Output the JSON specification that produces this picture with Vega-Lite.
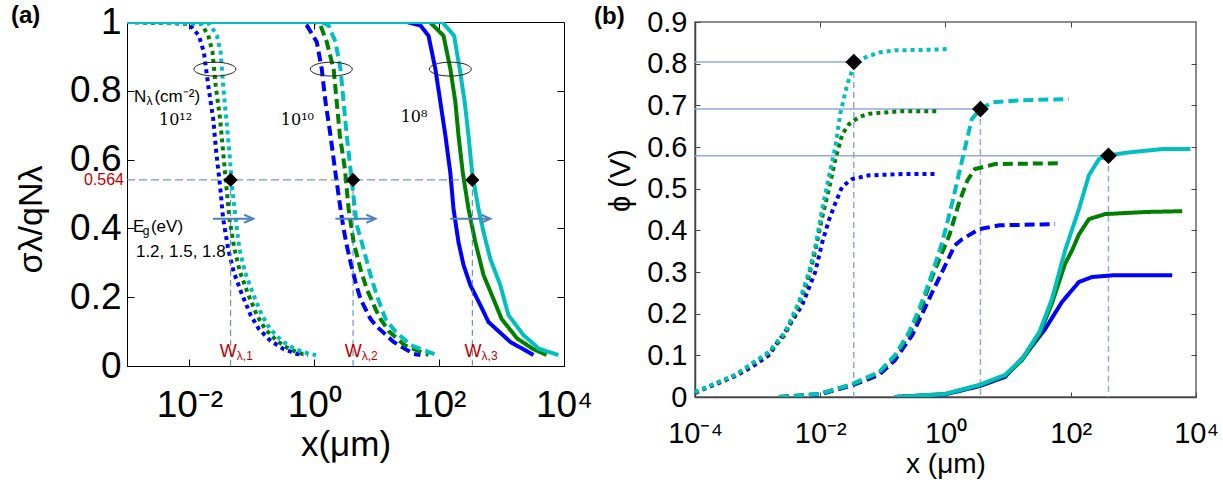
{
  "$schema": "https://vega.github.io/schema/vega-lite/v6.json",
  "background": "white",
  "padding": {"left": 10, "top": 2, "right": 0, "bottom": 0},
  "bounds": "flush",
  "spacing": 131,
  "config": {
    "font": "Liberation Sans",
    "axis": {"grid": false, "labelFont": "Liberation Sans", "titleFont": "Liberation Sans", "titleFontWeight": "normal",
             "labelColor": "black", "titleColor": "black", "tickColor": "black", "domainColor": "black", "labelOverlap": false, "labelFlush": false}
  },
  "datasets": {
    "a_lines": [
      {"g":"dot","e":"1.2","x":0.001,"y":1},{"g":"dot","e":"1.2","x":0.00977,"y":0.995},{"g":"dot","e":"1.2","x":0.0141,"y":0.961},{"g":"dot","e":"1.2","x":0.017,"y":0.913},{"g":"dot","e":"1.2","x":0.02,"y":0.816},{"g":"dot","e":"1.2","x":0.024,"y":0.719},{"g":"dot","e":"1.2","x":0.0269,"y":0.622},{"g":"dot","e":"1.2","x":0.0309,"y":0.525},{"g":"dot","e":"1.2","x":0.0347,"y":0.428},{"g":"dot","e":"1.2","x":0.0417,"y":0.341},{"g":"dot","e":"1.2","x":0.0513,"y":0.273},{"g":"dot","e":"1.2","x":0.0692,"y":0.209},{"g":"dot","e":"1.2","x":0.0955,"y":0.148},{"g":"dot","e":"1.2","x":0.129,"y":0.108},{"g":"dot","e":"1.2","x":0.2,"y":0.073},{"g":"dot","e":"1.2","x":0.324,"y":0.049},{"g":"dot","e":"1.2","x":0.525,"y":0.035},{"g":"dot","e":"1.2","x":0.676,"y":0.032},
      {"g":"dot","e":"1.5","x":0.001,"y":1},{"g":"dot","e":"1.5","x":0.0155,"y":0.995},{"g":"dot","e":"1.5","x":0.02,"y":0.961},{"g":"dot","e":"1.5","x":0.0234,"y":0.913},{"g":"dot","e":"1.5","x":0.0263,"y":0.816},{"g":"dot","e":"1.5","x":0.0309,"y":0.719},{"g":"dot","e":"1.5","x":0.0347,"y":0.622},{"g":"dot","e":"1.5","x":0.0389,"y":0.525},{"g":"dot","e":"1.5","x":0.0437,"y":0.428},{"g":"dot","e":"1.5","x":0.0525,"y":0.341},{"g":"dot","e":"1.5","x":0.0646,"y":0.273},{"g":"dot","e":"1.5","x":0.0871,"y":0.209},{"g":"dot","e":"1.5","x":0.12,"y":0.148},{"g":"dot","e":"1.5","x":0.162,"y":0.108},{"g":"dot","e":"1.5","x":0.251,"y":0.073},{"g":"dot","e":"1.5","x":0.398,"y":0.049},{"g":"dot","e":"1.5","x":0.646,"y":0.035},{"g":"dot","e":"1.5","x":0.794,"y":0.032},
      {"g":"dot","e":"1.8","x":0.001,"y":1},{"g":"dot","e":"1.8","x":0.0209,"y":0.995},{"g":"dot","e":"1.8","x":0.0275,"y":0.961},{"g":"dot","e":"1.8","x":0.0316,"y":0.913},{"g":"dot","e":"1.8","x":0.0347,"y":0.816},{"g":"dot","e":"1.8","x":0.0389,"y":0.719},{"g":"dot","e":"1.8","x":0.0437,"y":0.622},{"g":"dot","e":"1.8","x":0.0479,"y":0.525},{"g":"dot","e":"1.8","x":0.055,"y":0.428},{"g":"dot","e":"1.8","x":0.0631,"y":0.341},{"g":"dot","e":"1.8","x":0.0776,"y":0.273},{"g":"dot","e":"1.8","x":0.105,"y":0.209},{"g":"dot","e":"1.8","x":0.145,"y":0.148},{"g":"dot","e":"1.8","x":0.195,"y":0.108},{"g":"dot","e":"1.8","x":0.302,"y":0.073},{"g":"dot","e":"1.8","x":0.49,"y":0.049},{"g":"dot","e":"1.8","x":0.832,"y":0.035},{"g":"dot","e":"1.8","x":1.07,"y":0.032},
      {"g":"dash","e":"1.2","x":0.001,"y":1},{"g":"dash","e":"1.2","x":0.631,"y":1},{"g":"dash","e":"1.2","x":0.759,"y":0.99},{"g":"dash","e":"1.2","x":1.096,"y":0.942},{"g":"dash","e":"1.2","x":1.318,"y":0.863},{"g":"dash","e":"1.2","x":1.514,"y":0.767},{"g":"dash","e":"1.2","x":1.82,"y":0.67},{"g":"dash","e":"1.2","x":2.138,"y":0.573},{"g":"dash","e":"1.2","x":2.63,"y":0.457},{"g":"dash","e":"1.2","x":2.951,"y":0.398},{"g":"dash","e":"1.2","x":3.311,"y":0.351},{"g":"dash","e":"1.2","x":3.802,"y":0.302},{"g":"dash","e":"1.2","x":4.571,"y":0.244},{"g":"dash","e":"1.2","x":5.495,"y":0.195},{"g":"dash","e":"1.2","x":7.943,"y":0.137},{"g":"dash","e":"1.2","x":10,"y":0.115},{"g":"dash","e":"1.2","x":18.62,"y":0.07},{"g":"dash","e":"1.2","x":38.9,"y":0.035},{"g":"dash","e":"1.2","x":50.12,"y":0.032},
      {"g":"dash","e":"1.5","x":0.001,"y":1},{"g":"dash","e":"1.5","x":1,"y":1},{"g":"dash","e":"1.5","x":1.259,"y":0.99},{"g":"dash","e":"1.5","x":1.585,"y":0.942},{"g":"dash","e":"1.5","x":2.042,"y":0.863},{"g":"dash","e":"1.5","x":2.291,"y":0.767},{"g":"dash","e":"1.5","x":2.57,"y":0.67},{"g":"dash","e":"1.5","x":3.09,"y":0.573},{"g":"dash","e":"1.5","x":3.548,"y":0.457},{"g":"dash","e":"1.5","x":4.266,"y":0.36},{"g":"dash","e":"1.5","x":5.495,"y":0.282},{"g":"dash","e":"1.5","x":6.918,"y":0.224},{"g":"dash","e":"1.5","x":9.55,"y":0.166},{"g":"dash","e":"1.5","x":11.48,"y":0.137},{"g":"dash","e":"1.5","x":15.85,"y":0.1},{"g":"dash","e":"1.5","x":28.18,"y":0.06},{"g":"dash","e":"1.5","x":67.61,"y":0.032},
      {"g":"dash","e":"1.8","x":0.001,"y":1},{"g":"dash","e":"1.8","x":1.318,"y":1},{"g":"dash","e":"1.8","x":1.698,"y":0.99},{"g":"dash","e":"1.8","x":2.188,"y":0.942},{"g":"dash","e":"1.8","x":2.63,"y":0.863},{"g":"dash","e":"1.8","x":2.951,"y":0.767},{"g":"dash","e":"1.8","x":3.311,"y":0.67},{"g":"dash","e":"1.8","x":3.802,"y":0.573},{"g":"dash","e":"1.8","x":4.786,"y":0.41},{"g":"dash","e":"1.8","x":5.754,"y":0.36},{"g":"dash","e":"1.8","x":7.943,"y":0.265},{"g":"dash","e":"1.8","x":10,"y":0.206},{"g":"dash","e":"1.8","x":13.8,"y":0.137},{"g":"dash","e":"1.8","x":19.95,"y":0.1},{"g":"dash","e":"1.8","x":35.48,"y":0.06},{"g":"dash","e":"1.8","x":91.2,"y":0.032},
      {"g":"solid","e":"1.2","x":0.001,"y":1},{"g":"solid","e":"1.2","x":30.2,"y":1},{"g":"solid","e":"1.2","x":50.12,"y":0.99},{"g":"solid","e":"1.2","x":67.61,"y":0.96},{"g":"solid","e":"1.2","x":87.1,"y":0.863},{"g":"solid","e":"1.2","x":104.7,"y":0.767},{"g":"solid","e":"1.2","x":125.9,"y":0.67},{"g":"solid","e":"1.2","x":151.4,"y":0.56},{"g":"solid","e":"1.2","x":169.8,"y":0.457},{"g":"solid","e":"1.2","x":204.2,"y":0.36},{"g":"solid","e":"1.2","x":245.5,"y":0.294},{"g":"solid","e":"1.2","x":316.2,"y":0.235},{"g":"solid","e":"1.2","x":457.1,"y":0.177},{"g":"solid","e":"1.2","x":616.6,"y":0.128},{"g":"solid","e":"1.2","x":1380,"y":0.07},{"g":"solid","e":"1.2","x":3236,"y":0.032},
      {"g":"solid","e":"1.5","x":0.001,"y":1},{"g":"solid","e":"1.5","x":70.79,"y":1},{"g":"solid","e":"1.5","x":117.5,"y":0.96},{"g":"solid","e":"1.5","x":151.4,"y":0.863},{"g":"solid","e":"1.5","x":182,"y":0.767},{"g":"solid","e":"1.5","x":204.2,"y":0.67},{"g":"solid","e":"1.5","x":239.9,"y":0.56},{"g":"solid","e":"1.5","x":295.1,"y":0.457},{"g":"solid","e":"1.5","x":380.2,"y":0.36},{"g":"solid","e":"1.5","x":512.9,"y":0.265},{"g":"solid","e":"1.5","x":741.3,"y":0.195},{"g":"solid","e":"1.5","x":1000,"y":0.137},{"g":"solid","e":"1.5","x":1778,"y":0.08},{"g":"solid","e":"1.5","x":3162,"y":0.05},{"g":"solid","e":"1.5","x":5248,"y":0.032},
      {"g":"solid","e":"1.8","x":0.001,"y":1},{"g":"solid","e":"1.8","x":112.2,"y":1},{"g":"solid","e":"1.8","x":173.8,"y":0.96},{"g":"solid","e":"1.8","x":213.8,"y":0.863},{"g":"solid","e":"1.8","x":257,"y":0.767},{"g":"solid","e":"1.8","x":295.1,"y":0.67},{"g":"solid","e":"1.8","x":338.8,"y":0.56},{"g":"solid","e":"1.8","x":426.6,"y":0.457},{"g":"solid","e":"1.8","x":512.9,"y":0.39},{"g":"solid","e":"1.8","x":660.7,"y":0.311},{"g":"solid","e":"1.8","x":955,"y":0.235},{"g":"solid","e":"1.8","x":1288,"y":0.148},{"g":"solid","e":"1.8","x":2239,"y":0.09},{"g":"solid","e":"1.8","x":3981,"y":0.05},{"g":"solid","e":"1.8","x":8128,"y":0.032}
    ],
    "b_lines": [
      {"g":"dot","e":"1.2","x":0.0001,"y":0.01},{"g":"dot","e":"1.2","x":0.000437,"y":0.05},{"g":"dot","e":"1.2","x":0.000813,"y":0.072},{"g":"dot","e":"1.2","x":0.00151,"y":0.1},{"g":"dot","e":"1.2","x":0.00316,"y":0.17},{"g":"dot","e":"1.2","x":0.00513,"y":0.22},{"g":"dot","e":"1.2","x":0.00832,"y":0.3},{"g":"dot","e":"1.2","x":0.0107,"y":0.37},{"g":"dot","e":"1.2","x":0.0138,"y":0.425},{"g":"dot","e":"1.2","x":0.0174,"y":0.465},{"g":"dot","e":"1.2","x":0.0224,"y":0.505},{"g":"dot","e":"1.2","x":0.0324,"y":0.523},{"g":"dot","e":"1.2","x":0.0603,"y":0.532},{"g":"dot","e":"1.2","x":0.204,"y":0.535},{"g":"dot","e":"1.2","x":0.676,"y":0.535},
      {"g":"dot","e":"1.5","x":0.0001,"y":0.011},{"g":"dot","e":"1.5","x":0.000437,"y":0.052},{"g":"dot","e":"1.5","x":0.00151,"y":0.105},{"g":"dot","e":"1.5","x":0.00275,"y":0.15},{"g":"dot","e":"1.5","x":0.00457,"y":0.22},{"g":"dot","e":"1.5","x":0.00661,"y":0.29},{"g":"dot","e":"1.5","x":0.00832,"y":0.35},{"g":"dot","e":"1.5","x":0.0107,"y":0.43},{"g":"dot","e":"1.5","x":0.0138,"y":0.5},{"g":"dot","e":"1.5","x":0.0174,"y":0.57},{"g":"dot","e":"1.5","x":0.0224,"y":0.63},{"g":"dot","e":"1.5","x":0.0288,"y":0.655},{"g":"dot","e":"1.5","x":0.0417,"y":0.672},{"g":"dot","e":"1.5","x":0.0603,"y":0.68},{"g":"dot","e":"1.5","x":0.204,"y":0.686},{"g":"dot","e":"1.5","x":0.813,"y":0.686},
      {"g":"dot","e":"1.8","x":0.0001,"y":0.012},{"g":"dot","e":"1.8","x":0.000437,"y":0.053},{"g":"dot","e":"1.8","x":0.00151,"y":0.108},{"g":"dot","e":"1.8","x":0.00275,"y":0.156},{"g":"dot","e":"1.8","x":0.00457,"y":0.228},{"g":"dot","e":"1.8","x":0.00661,"y":0.3},{"g":"dot","e":"1.8","x":0.00832,"y":0.36},{"g":"dot","e":"1.8","x":0.0107,"y":0.45},{"g":"dot","e":"1.8","x":0.0138,"y":0.53},{"g":"dot","e":"1.8","x":0.0174,"y":0.6},{"g":"dot","e":"1.8","x":0.0209,"y":0.68},{"g":"dot","e":"1.8","x":0.0269,"y":0.75},{"g":"dot","e":"1.8","x":0.0324,"y":0.785},{"g":"dot","e":"1.8","x":0.0347,"y":0.803},{"g":"dot","e":"1.8","x":0.0525,"y":0.815},{"g":"dot","e":"1.8","x":0.0871,"y":0.827},{"g":"dot","e":"1.8","x":0.155,"y":0.832},{"g":"dot","e":"1.8","x":0.427,"y":0.833},{"g":"dot","e":"1.8","x":1.07,"y":0.835},
      {"g":"dash","e":"1.2","x":0.00219,"y":0},{"g":"dash","e":"1.2","x":0.00955,"y":0.006},{"g":"dash","e":"1.2","x":0.0324,"y":0.028},{"g":"dash","e":"1.2","x":0.0871,"y":0.053},{"g":"dash","e":"1.2","x":0.155,"y":0.088},{"g":"dash","e":"1.2","x":0.295,"y":0.149},{"g":"dash","e":"1.2","x":0.617,"y":0.252},{"g":"dash","e":"1.2","x":1.41,"y":0.364},{"g":"dash","e":"1.2","x":1.86,"y":0.379},{"g":"dash","e":"1.2","x":3.47,"y":0.403},{"g":"dash","e":"1.2","x":7.24,"y":0.412},{"g":"dash","e":"1.2","x":56.2,"y":0.415},
      {"g":"dash","e":"1.5","x":0.00219,"y":0},{"g":"dash","e":"1.5","x":0.00955,"y":0.007},{"g":"dash","e":"1.5","x":0.0324,"y":0.03},{"g":"dash","e":"1.5","x":0.0871,"y":0.058},{"g":"dash","e":"1.5","x":0.155,"y":0.097},{"g":"dash","e":"1.5","x":0.263,"y":0.15},{"g":"dash","e":"1.5","x":0.38,"y":0.2},{"g":"dash","e":"1.5","x":0.617,"y":0.29},{"g":"dash","e":"1.5","x":1.15,"y":0.388},{"g":"dash","e":"1.5","x":1.66,"y":0.468},{"g":"dash","e":"1.5","x":2.24,"y":0.52},{"g":"dash","e":"1.5","x":2.95,"y":0.547},{"g":"dash","e":"1.5","x":6.17,"y":0.559},{"g":"dash","e":"1.5","x":72.4,"y":0.561},
      {"g":"dash","e":"1.8","x":0.00219,"y":0},{"g":"dash","e":"1.8","x":0.00955,"y":0.007},{"g":"dash","e":"1.8","x":0.0324,"y":0.031},{"g":"dash","e":"1.8","x":0.0871,"y":0.06},{"g":"dash","e":"1.8","x":0.155,"y":0.1},{"g":"dash","e":"1.8","x":0.263,"y":0.156},{"g":"dash","e":"1.8","x":0.38,"y":0.211},{"g":"dash","e":"1.8","x":0.55,"y":0.276},{"g":"dash","e":"1.8","x":0.891,"y":0.372},{"g":"dash","e":"1.8","x":1.29,"y":0.468},{"g":"dash","e":"1.8","x":1.86,"y":0.571},{"g":"dash","e":"1.8","x":2.63,"y":0.667},{"g":"dash","e":"1.8","x":3.55,"y":0.69},{"g":"dash","e":"1.8","x":5.5,"y":0.707},{"g":"dash","e":"1.8","x":15.1,"y":0.712},{"g":"dash","e":"1.8","x":93.3,"y":0.715},
      {"g":"solid","e":"1.2","x":0.155,"y":0},{"g":"solid","e":"1.2","x":0.977,"y":0.006},{"g":"solid","e":"1.2","x":3.47,"y":0.026},{"g":"solid","e":"1.2","x":8.91,"y":0.048},{"g":"solid","e":"1.2","x":18.6,"y":0.1},{"g":"solid","e":"1.2","x":38.9,"y":0.163},{"g":"solid","e":"1.2","x":72.4,"y":0.228},{"g":"solid","e":"1.2","x":135,"y":0.276},{"g":"solid","e":"1.2","x":219,"y":0.288},{"g":"solid","e":"1.2","x":457,"y":0.292},{"g":"solid","e":"1.2","x":4169,"y":0.292},
      {"g":"solid","e":"1.5","x":0.155,"y":0},{"g":"solid","e":"1.5","x":0.977,"y":0.007},{"g":"solid","e":"1.5","x":3.47,"y":0.028},{"g":"solid","e":"1.5","x":8.91,"y":0.051},{"g":"solid","e":"1.5","x":16.6,"y":0.088},{"g":"solid","e":"1.5","x":31.6,"y":0.15},{"g":"solid","e":"1.5","x":50.1,"y":0.225},{"g":"solid","e":"1.5","x":81.3,"y":0.32},{"g":"solid","e":"1.5","x":105,"y":0.352},{"g":"solid","e":"1.5","x":135,"y":0.39},{"g":"solid","e":"1.5","x":195,"y":0.427},{"g":"solid","e":"1.5","x":355,"y":0.439},{"g":"solid","e":"1.5","x":1549,"y":0.444},{"g":"solid","e":"1.5","x":6026,"y":0.446},
      {"g":"solid","e":"1.8","x":0.155,"y":0},{"g":"solid","e":"1.8","x":0.977,"y":0.007},{"g":"solid","e":"1.8","x":3.47,"y":0.029},{"g":"solid","e":"1.8","x":8.91,"y":0.053},{"g":"solid","e":"1.8","x":16.6,"y":0.091},{"g":"solid","e":"1.8","x":31.6,"y":0.156},{"g":"solid","e":"1.8","x":50.1,"y":0.235},{"g":"solid","e":"1.8","x":81.3,"y":0.352},{"g":"solid","e":"1.8","x":135,"y":0.451},{"g":"solid","e":"1.8","x":195,"y":0.532},{"g":"solid","e":"1.8","x":282,"y":0.571},{"g":"solid","e":"1.8","x":398,"y":0.58},{"g":"solid","e":"1.8","x":851,"y":0.587},{"g":"solid","e":"1.8","x":2884,"y":0.595},{"g":"solid","e":"1.8","x":8128,"y":0.595}
    ]
  },
  "hconcat": [
    {
      "width": 437,
      "height": 344,
      "title": {"text": "(a)", "anchor": "start", "frame": "bounds", "fontSize": 24, "fontWeight": "bold", "offset": -25, "dx": -3},
      "view": {"stroke": "black", "strokeWidth": 1},
      "resolve": {"axis": {"x": "independent", "y": "independent"}},
      "layer": [
        {
          "data": {"name": "a_lines"},
          "mark": {"type": "line", "strokeWidth": 4, "clip": true},
          "encoding": {
            "x": {"field": "x", "type": "quantitative", "scale": {"type": "log", "domain": [0.001, 10000], "nice": false},
                  "axis": {"values": [0.01, 1, 100, 10000], "labelExpr": "datum.value < 0.001 ? '10⁻⁴' : datum.value < 0.1 ? '10⁻²' : datum.value < 10 ? '10⁰' : datum.value < 1000 ? '10²' : '10⁴'",
                           "labelFontSize": 37, "tickSize": -7, "labelBaseline": "alphabetic", "labelPadding": 57,
                           "title": "x(μm)", "titleFontSize": 35, "titleBaseline": "alphabetic", "titleY": 89}},
            "y": {"field": "y", "type": "quantitative", "scale": {"domain": [0, 1], "nice": false},
                  "axis": {"values": [0, 0.2, 0.4, 0.6, 0.8, 1], "format": ".1~f", "labelFontSize": 37, "tickSize": -7, "labelPadding": 13,
                           "title": "σλ/qNλ", "titleFontSize": 34, "titleBaseline": "alphabetic", "titleAlign": "center", "titleAngle": 270, "titleX": -86, "titleY": 197}},
            "color": {"field": "e", "type": "nominal", "scale": {"domain": ["1.2", "1.5", "1.8"], "range": ["#0000ff", "#008000", "#00bfbf"]}, "legend": null},
            "strokeDash": {"field": "g", "type": "nominal", "scale": {"domain": ["dot", "dash", "solid"], "range": [[4, 4], [10, 5], [1, 0]]}, "legend": null}
          }
        },
        {
          "data": {"values": [{"x": 1, "y": 0.5}]},
          "mark": {"type": "point", "opacity": 0},
          "encoding": {
            "x": {"field": "x", "type": "quantitative", "axis": {"orient": "top", "values": [0.01, 1, 100], "labels": false, "domain": false, "tickSize": -7, "title": null}},
            "y": {"field": "y", "type": "quantitative", "axis": {"orient": "right", "values": [0.2, 0.4, 0.6, 0.8], "labels": false, "domain": false, "tickSize": -7, "title": null}}
          }
        },
        {
          "data": {"values": [{"x": 0.001, "x2": 335, "y": 0.541}]},
          "mark": {"type": "rule", "color": "#4a7ebb", "strokeWidth": 1, "strokeDash": [8, 4]},
          "encoding": {
            "x": {"field": "x", "type": "quantitative", "axis": null}, "x2": {"field": "x2"},
            "y": {"field": "y", "type": "quantitative", "axis": null}
          }
        },
        {
          "data": {"values": [{"x": 0.0457, "y": 0.541}, {"x": 4.18, "y": 0.541}, {"x": 340, "y": 0.541}]},
          "layer": [
            {
              "mark": {"type": "rule", "color": "#4a7ebb", "strokeWidth": 1, "strokeDash": [6, 4]},
              "encoding": {
                "x": {"field": "x", "type": "quantitative", "axis": null},
                "y": {"field": "y", "type": "quantitative", "axis": null}, "y2": {"datum": 0}
              }
            },
            {
              "mark": {"type": "point", "shape": "diamond", "filled": true, "color": "black", "opacity": 1, "size": 200},
              "encoding": {
                "x": {"field": "x", "type": "quantitative", "axis": null},
                "y": {"field": "y", "type": "quantitative", "axis": null}
              }
            }
          ]
        },
        {
          "data": {"values": [{"x": 0.0238, "x2": 0.105, "y": 0.428}, {"x": 2.18, "x2": 9.53, "y": 0.428}, {"x": 151, "x2": 659, "y": 0.428}]},
          "layer": [
            {
              "mark": {"type": "rule", "color": "#4f81bd", "strokeWidth": 2},
              "encoding": {
                "x": {"field": "x", "type": "quantitative", "axis": null}, "x2": {"field": "x2"},
                "y": {"field": "y", "type": "quantitative", "axis": null}
              }
            },
            {
              "mark": {"type": "point", "shape": "M-2.25,-1L0,0L-2.25,1", "filled": false, "stroke": "#4f81bd", "strokeWidth": 2, "opacity": 1, "size": 64},
              "encoding": {
                "x": {"field": "x2", "type": "quantitative", "axis": null},
                "y": {"field": "y", "type": "quantitative", "axis": null}
              }
            }
          ]
        },
        {
          "data": {"values": [{"x": 0.0256, "y": 0.863}, {"x": 1.871, "y": 0.863}, {"x": 151.1, "y": 0.863}]},
          "mark": {"type": "point", "shape": "M-1,0A1,0.33,0,1,0,1,0A1,0.33,0,1,0,-1,0Z", "filled": false, "stroke": "#222", "strokeWidth": 1, "opacity": 1, "size": 1764},
          "encoding": {
            "x": {"field": "x", "type": "quantitative", "axis": null},
            "y": {"field": "y", "type": "quantitative", "axis": null}
          }
        },
        {
          "data": {"values": [{"t": "N", "x": 0.00129, "y": 0.767}, {"t": "(cm⁻²)", "x": 0.00275, "y": 0.767}, {"t": "E", "x": 0.00125, "y": 0.39}, {"t": "(eV)", "x": 0.00242, "y": 0.39}, {"t": "1.2, 1.5, 1.8", "x": 0.00139, "y": 0.317}]},
          "mark": {"type": "text", "align": "left", "baseline": "alphabetic", "fontSize": 17, "color": "black"},
          "encoding": {
            "x": {"field": "x", "type": "quantitative", "axis": null},
            "y": {"field": "y", "type": "quantitative", "axis": null},
            "text": {"field": "t"}
          }
        },
        {
          "data": {"values": [{"t": "λ", "x": 0.00205, "y": 0.767}, {"t": "g", "x": 0.00178, "y": 0.39}]},
          "mark": {"type": "text", "align": "left", "baseline": "alphabetic", "fontSize": 12, "dy": 3, "color": "black"},
          "encoding": {
            "x": {"field": "x", "type": "quantitative", "axis": null},
            "y": {"field": "y", "type": "quantitative", "axis": null},
            "text": {"field": "t"}
          }
        },
        {
          "data": {"values": [{"t": "10¹²", "x": 0.00325, "y": 0.7}, {"t": "10¹⁰", "x": 0.291, "y": 0.7}, {"t": "10⁸", "x": 24.2, "y": 0.709}]},
          "mark": {"type": "text", "align": "left", "baseline": "alphabetic", "fontSize": 16, "font": "DejaVu Serif", "color": "black"},
          "encoding": {
            "x": {"field": "x", "type": "quantitative", "axis": null},
            "y": {"field": "y", "type": "quantitative", "axis": null},
            "text": {"field": "t"}
          }
        },
        {
          "data": {"values": [{"x": 0.0575, "y": 0.026}, {"x": 5.75, "y": 0.026}, {"x": 479, "y": 0.026}]},
          "mark": {"type": "text", "align": "right", "baseline": "alphabetic", "fontSize": 18, "color": "#c00000", "text": "W"},
          "encoding": {
            "x": {"field": "x", "type": "quantitative", "axis": null},
            "y": {"field": "y", "type": "quantitative", "axis": null}
          }
        },
        {
          "data": {"values": [{"t": "λ,1", "x": 0.0575, "y": 0.026}, {"t": "λ,2", "x": 5.75, "y": 0.026}, {"t": "λ,3", "x": 479, "y": 0.026}]},
          "mark": {"type": "text", "align": "left", "baseline": "alphabetic", "fontSize": 12, "dy": 3, "color": "#c00000"},
          "encoding": {
            "x": {"field": "x", "type": "quantitative", "axis": null},
            "y": {"field": "y", "type": "quantitative", "axis": null},
            "text": {"field": "t"}
          }
        },
        {
          "data": {"values": [{"t": "0.564", "x": 0.001, "y": 0.541}]},
          "mark": {"type": "text", "align": "right", "baseline": "middle", "fontSize": 16, "dx": -3, "color": "#c00000"},
          "encoding": {
            "x": {"field": "x", "type": "quantitative", "axis": null},
            "y": {"field": "y", "type": "quantitative", "axis": null},
            "text": {"field": "t"}
          }
        }
      ]
    },
    {
      "width": 501,
      "height": 375,
      "title": {"text": "(b)", "anchor": "start", "frame": "bounds", "fontSize": 24, "fontWeight": "bold", "offset": -21, "dx": -12},
      "view": {"stroke": "#666", "strokeWidth": 1.5},
      "resolve": {"axis": {"x": "independent", "y": "independent"}},
      "layer": [
        {
          "data": {"values": [{"x": 0.0001, "x2": 0.0343, "y": 0.804}, {"x": 0.0001, "x2": 3.61, "y": 0.691}, {"x": 0.0001, "x2": 400, "y": 0.579}]},
          "mark": {"type": "rule", "color": "#8faadc", "strokeWidth": 1.5},
          "encoding": {
            "x": {"field": "x", "type": "quantitative", "scale": {"type": "log", "domain": [0.0001, 10000], "nice": false},
                  "axis": {"values": [0.0001, 0.01, 1, 100, 10000], "labelExpr": "datum.value < 0.001 ? '10⁻⁴' : datum.value < 0.1 ? '10⁻²' : datum.value < 10 ? '10⁰' : datum.value < 1000 ? '10²' : '10⁴'",
                           "labelFontSize": 29, "tickSize": -5, "labelBaseline": "alphabetic", "labelPadding": 50, "domainColor": "#444", "domainWidth": 1.5, "tickColor": "#444",
                           "title": "x (μm)", "titleFontSize": 28, "titleBaseline": "alphabetic", "titleY": 75}},
            "x2": {"field": "x2"},
            "y": {"field": "y", "type": "quantitative", "scale": {"domain": [0, 0.9], "nice": false},
                  "axis": {"values": [0, 0.1, 0.2, 0.3, 0.4, 0.5, 0.6, 0.7, 0.8, 0.9], "format": ".1~f", "labelFontSize": 29, "tickSize": -5, "labelPadding": 13, "domainColor": "#444", "domainWidth": 1.5, "tickColor": "#444",
                           "title": "ϕ (V)", "titleFontSize": 29, "titleBaseline": "alphabetic", "titleAlign": "center", "titleAngle": 270, "titleX": -66, "titleY": 158}}
          }
        },
        {
          "data": {"values": [{"x": 1, "y": 0.5}]},
          "mark": {"type": "point", "opacity": 0},
          "encoding": {
            "x": {"field": "x", "type": "quantitative", "axis": {"orient": "top", "values": [0.01, 1, 100], "labels": false, "domain": false, "tickSize": -5, "tickColor": "#444", "title": null}},
            "y": {"field": "y", "type": "quantitative", "axis": {"orient": "right", "values": [0.1, 0.2, 0.3, 0.4, 0.5, 0.6, 0.7, 0.8], "labels": false, "domain": false, "tickSize": -5, "tickColor": "#444", "title": null}}
          }
        },
        {
          "data": {"values": [{"x": 0.0343, "y": 0.804}, {"x": 3.61, "y": 0.691}, {"x": 400, "y": 0.579}]},
          "mark": {"type": "rule", "color": "#8faadc", "strokeWidth": 1.5, "strokeDash": [6, 4]},
          "encoding": {
            "x": {"field": "x", "type": "quantitative", "axis": null},
            "y": {"field": "y", "type": "quantitative", "axis": null}, "y2": {"datum": 0}
          }
        },
        {
          "data": {"name": "b_lines"},
          "mark": {"type": "line", "strokeWidth": 4, "clip": true},
          "encoding": {
            "x": {"field": "x", "type": "quantitative", "axis": null},
            "y": {"field": "y", "type": "quantitative", "axis": null},
            "color": {"field": "e", "type": "nominal", "scale": {"domain": ["1.2", "1.5", "1.8"], "range": ["#0000ff", "#008000", "#00bfbf"]}, "legend": null},
            "strokeDash": {"field": "g", "type": "nominal", "scale": {"domain": ["dot", "dash", "solid"], "range": [[4, 4], [11, 5], [1, 0]]}, "legend": null}
          }
        },
        {
          "data": {"values": [{"x": 0.0343, "y": 0.804}, {"x": 3.61, "y": 0.691}, {"x": 400, "y": 0.579}]},
          "mark": {"type": "point", "shape": "diamond", "filled": true, "color": "black", "opacity": 1, "size": 280},
          "encoding": {
            "x": {"field": "x", "type": "quantitative", "axis": null},
            "y": {"field": "y", "type": "quantitative", "axis": null}
          }
        }
      ]
    }
  ]
}
